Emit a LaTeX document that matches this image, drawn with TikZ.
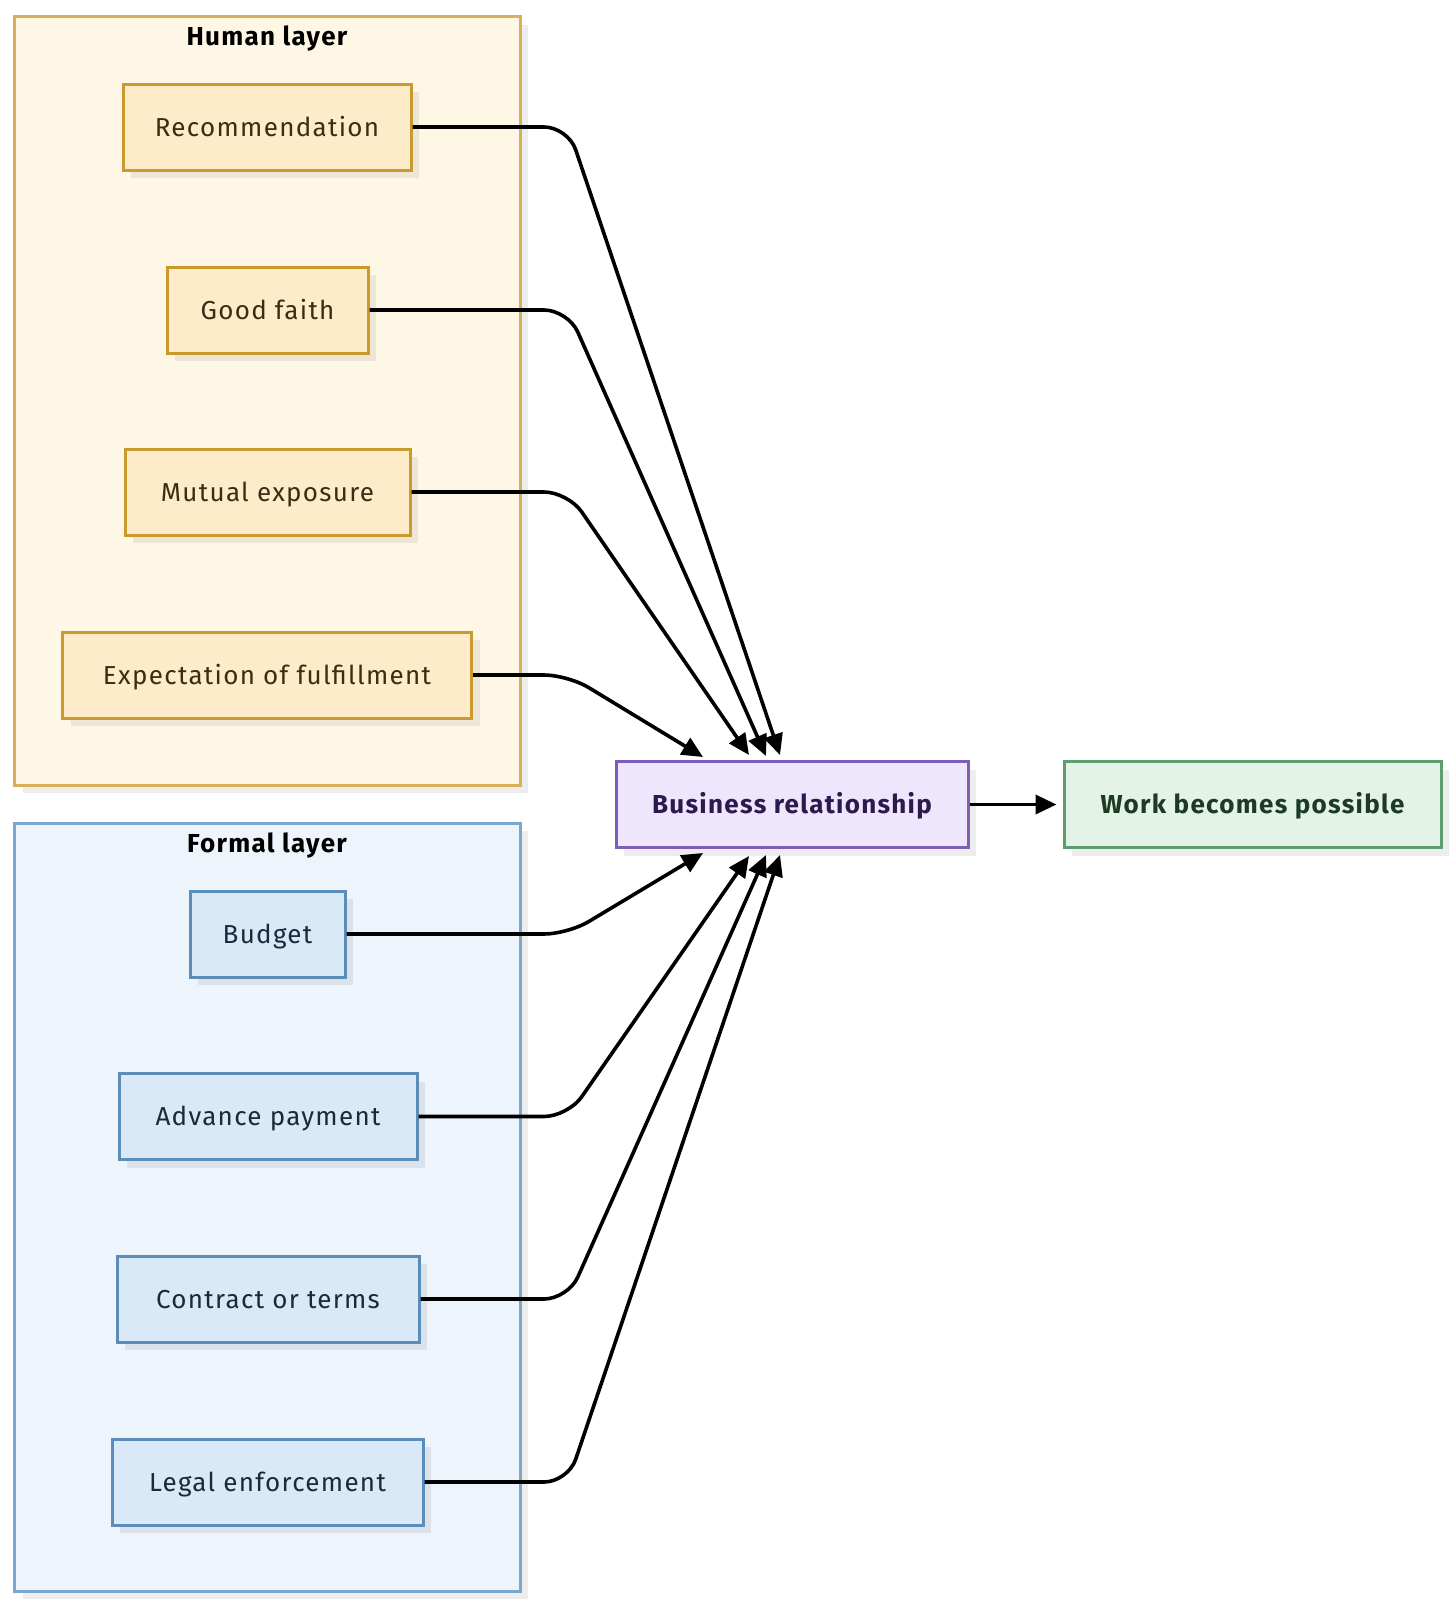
\documentclass[tikz,border=0pt]{standalone}
\usepackage{fontspec}
\setmainfont[LetterSpace=5]{Fira Sans}
\usetikzlibrary{arrows.meta,shadows}
\definecolor{humfill}{HTML}{FFF7E6}
\definecolor{humdraw}{HTML}{D9B05A}
\definecolor{hnfill}{HTML}{FDEBC9}
\definecolor{hndraw}{HTML}{C99A2E}
\definecolor{hntext}{HTML}{3B2D14}
\definecolor{forfill}{HTML}{EDF4FC}
\definecolor{fordraw}{HTML}{7BA7CF}
\definecolor{fnfill}{HTML}{DAE9F8}
\definecolor{fndraw}{HTML}{5B8DB8}
\definecolor{fntext}{HTML}{1B2A3A}
\definecolor{brfill}{HTML}{EEE6FC}
\definecolor{brdraw}{HTML}{7E5DB8}
\definecolor{brtext}{HTML}{2B1A4D}
\definecolor{wkfill}{HTML}{E3F3E8}
\definecolor{wkdraw}{HTML}{5E9E6E}
\definecolor{wktext}{HTML}{1C3A24}
\tikzset{
  myshadow/.style={drop shadow={shadow xshift=8pt, shadow yshift=-8pt, fill=black, opacity=0.07}},
  cluster/.style={draw, line width=3pt, myshadow},
  basebox/.style={rectangle, line width=3pt, minimum height=86pt, inner sep=0pt, text height=20pt, text depth=2pt, font=\fontsize{26}{30}\selectfont, myshadow},
  hbox/.style={basebox, draw=hndraw, fill=hnfill, text=hntext},
  fbox/.style={basebox, draw=fndraw, fill=fnfill, text=fntext},
  ctitle/.style={font=\fontsize{26}{30}\selectfont\bfseries, text=black},
  edge/.style={line width=3.6pt, -{Triangle[length=21pt,width=19pt]}, rounded corners=24pt},
}
\begin{document}
\begin{tikzpicture}[x=1pt,y=-1pt]
\useasboundingbox (0,0) rectangle (1456,1609);
% clusters
\draw[cluster, draw=humdraw, fill=humfill] (14.5,16.5) rectangle (520,785);
\node[ctitle] (htitle) at (267,39) {Human layer};
\draw[cluster, draw=fordraw, fill=forfill] (14.5,823) rectangle (520,1591);
\node[ctitle] (ftitle) at (267,846) {Formal layer};
% human nodes
\node[hbox, minimum width=288pt] (rec) at (267,127) {Recommendation};
\node[hbox, minimum width=201pt] (good) at (267.5,310) {Good faith};
\node[hbox, minimum width=285pt] (mut) at (267.5,492) {Mutual exposure};
\node[hbox, minimum width=409pt] (exp) at (267,675) {Expectation of fulfillment};
% formal nodes
\node[fbox, minimum width=155pt] (bud) at (267.5,934) {Budget};
\node[fbox, minimum width=298pt] (adv) at (268,1116.5) {Advance payment};
\node[fbox, minimum width=302pt] (con) at (268,1299) {Contract or terms};
\node[fbox, minimum width=311pt] (leg) at (267.5,1482) {Legal enforcement};
% center nodes
\node[basebox, draw=brdraw, fill=brfill, text=brtext, minimum width=352pt, font=\fontsize{26}{30}\selectfont\bfseries] (br) at (792,804.5) {Business relationship};
\node[basebox, draw=wkdraw, fill=wkfill, text=wktext, minimum width=377pt, font=\fontsize{26}{30}\selectfont\bfseries] (work) at (1252.5,804.5) {Work becomes possible};
% helper coordinates
\coordinate (cx) at (568,0);
\coordinate (t1) at (703,757);
\coordinate (t2) at (749,755);
\coordinate (t3) at (766,756);
\coordinate (t4) at (780,755);
\coordinate (b1) at (703,853);
\coordinate (b2) at (749,856);
\coordinate (b3) at (766,855);
\coordinate (b4) at (780,855);
% edges
\draw[edge] (rec.east) -- (rec.east -| cx) -- (t4);
\draw[edge] (good.east) -- (good.east -| cx) -- (t3);
\draw[edge] (mut.east) -- (mut.east -| cx) -- (t2);
\draw[edge] (exp.east) -- (exp.east -| cx) -- (t1);
\draw[edge] (bud.east) -- (bud.east -| cx) -- (b1);
\draw[edge] (adv.east) -- (adv.east -| cx) -- (b2);
\draw[edge] (con.east) -- (con.east -| cx) -- (b3);
\draw[edge] (leg.east) -- (leg.east -| cx) -- (b4);
\draw[line width=3.6pt, -{Triangle[length=21pt,width=19pt]}] (br.east) -- ([xshift=-6pt]work.west);
\end{tikzpicture}
\end{document}
